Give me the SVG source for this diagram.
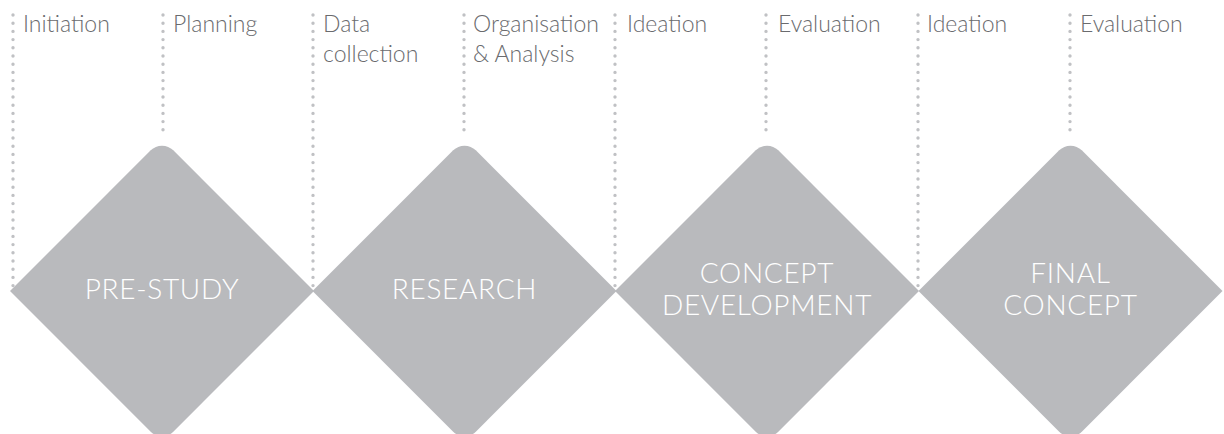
<svg xmlns="http://www.w3.org/2000/svg" width="1224" height="434" viewBox="0 0 1224 434">
  <style>
    .stage { fill: #b9babd; }
    .stage-label { font-family: Lato, "Open Sans", sans-serif; font-weight: 300; font-size: 28px; letter-spacing: 0.7px; fill: #ffffff; text-anchor: middle; }
    .step-label { font-family: Lato, "Open Sans", sans-serif; font-weight: 300; font-size: 23px; fill: #6a6b6e; }
    .dots { stroke: #c0c1c4; stroke-width: 3.4; stroke-linecap: round; stroke-dasharray: 0 8.2; fill: none; }
  </style>
  <defs>
    <!-- diamond centred on (0,0): sharp left/right points, rounded top/bottom -->
    <path id="diamond" d="M -152 0 L -11.3 -140.7 A 16 16 0 0 1 11.3 -140.7 L 152 0 L 11.3 140.7 A 16 16 0 0 1 -11.3 140.7 Z"/>
  </defs>

  <!-- dotted guides -->
  <g id="connectors">
    <line class="dots" x1="13" y1="15" x2="13" y2="286"/>
    <line class="dots" x1="163" y1="15" x2="163" y2="137.7"/>
    <line class="dots" x1="313" y1="15" x2="313" y2="286"/>
    <line class="dots" x1="464" y1="15" x2="464" y2="137.7"/>
    <line class="dots" x1="615" y1="15" x2="615" y2="286"/>
    <line class="dots" x1="766" y1="15" x2="766" y2="137.7"/>
    <line class="dots" x1="918" y1="15" x2="918" y2="286"/>
    <line class="dots" x1="1070" y1="15" x2="1070" y2="137.7"/>
  </g>

  <g id="stage-prestudy">
    <use href="#diamond" class="stage" transform="translate(162 291)"/>
    <text class="stage-label" x="162" y="299">PRE-STUDY</text>
  </g>
  <g id="stage-research">
    <use href="#diamond" class="stage" transform="translate(464.5 291)"/>
    <text class="stage-label" x="464.5" y="299">RESEARCH</text>
  </g>
  <g id="stage-concept-development">
    <use href="#diamond" class="stage" transform="translate(767 291)"/>
    <text class="stage-label" x="767" y="283">CONCEPT</text>
    <text class="stage-label" x="767" y="315">DEVELOPMENT</text>
  </g>
  <g id="stage-final-concept">
    <use href="#diamond" class="stage" transform="translate(1070.5 291)"/>
    <text class="stage-label" x="1070.5" y="283">FINAL</text>
    <text class="stage-label" x="1070.5" y="315">CONCEPT</text>
  </g>

  <g id="step-labels">
    <text class="step-label" x="23" y="32">Initiation</text>
    <text class="step-label" x="173" y="32">Planning</text>
    <text class="step-label" x="323" y="32">Data</text>
    <text class="step-label" x="323" y="62">collection</text>
    <text class="step-label" x="473" y="32">Organisation</text>
    <text class="step-label" x="473" y="62">&amp; Analysis</text>
    <text class="step-label" x="627" y="32">Ideation</text>
    <text class="step-label" x="778" y="32">Evaluation</text>
    <text class="step-label" x="927" y="32">Ideation</text>
    <text class="step-label" x="1080" y="32">Evaluation</text>
  </g>
</svg>
